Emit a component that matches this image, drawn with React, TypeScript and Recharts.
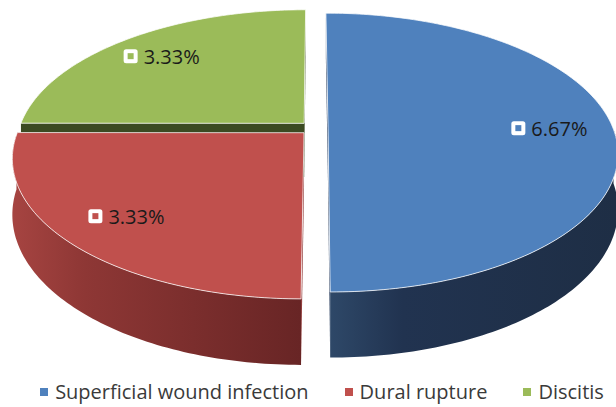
import React from "react";
import { PieChart, Pie, Legend } from "recharts";

const CATEGORIES = ["Superficial wound infection", "Dural rupture", "Discitis"];
const VALUES = [6.67, 3.33, 3.33];
const VALUE_LABELS = ["6.67%", "3.33%", "3.33%"];

const TOP_COLORS = ["#4F81BD", "#C0504D", "#9BBB59"];
const SIDE_STOPS = [
  ["#2E4868", "#213350", "#1E2E45"],
  ["#A64441", "#8E3735", "#682525"],
  ["#4A5D2A", "#3E4E24", "#3A4A22"],
];
const EDGE_COLORS = ["#24395A", "#8E3533", "#3B4A22"];

const data = CATEGORIES.map((name, i) => ({
  name,
  value: VALUES[i],
  text: VALUE_LABELS[i],
}));

// fake 3d: tilt of the disc, perspective strength, thickness, explode distance
const TILT = 0.474;
const PERSP = 0.176;
const DEPTH = 54;
const EXPLODE = 14;
const FONT = "'Open Sans', sans-serif";

const rad = (d: number) => (d * Math.PI) / 180;

function makeProjector(p: any) {
  const { cx, cy, outerRadius: r, midAngle } = p;
  const ox = EXPLODE * Math.cos(rad(midAngle));
  const oy = EXPLODE * Math.sin(rad(midAngle));
  const pt = (X: number, Y: number, z: number) => {
    const f = 1 / (1 + (PERSP * Y) / r);
    return [cx + X * f, cy - Y * TILT * f + z * f];
  };
  const rim = (deg: number, z: number, k = 1) =>
    pt(ox + k * r * Math.cos(rad(deg)), oy + k * r * Math.sin(rad(deg)), z);
  const center = (z: number) => pt(ox, oy, z);
  return { rim, center };
}

function arcAngles(a: number, b: number) {
  const n = Math.max(2, Math.ceil(Math.abs(b - a)));
  const out: number[] = [];
  for (let i = 0; i <= n; i++) out.push(a + ((b - a) * i) / n);
  return out;
}

const toPath = (pts: number[][]) =>
  pts.map((q, i) => `${i ? "L" : "M"}${q[0].toFixed(2)},${q[1].toFixed(2)}`).join(" ") + " Z";

function renderSide(p: any) {
  const { startAngle, endAngle, index } = p;
  const { rim, center } = makeProjector(p);
  const edges = [startAngle, endAngle].map((a) =>
    toPath([center(0), rim(a, 0), rim(a, DEPTH), center(DEPTH)])
  );
  const front = arcAngles(startAngle, endAngle).filter((a) => Math.sin(rad(a)) <= 1e-6);
  let outer = null;
  if (front.length > 1) {
    const top = front.map((a) => rim(a, 0));
    const bottom = front.map((a) => rim(a, DEPTH)).reverse();
    const pts = [...top, ...bottom];
    const xs = pts.map((q) => q[0]);
    const gid = `side-grad-${index}`;
    const stops = SIDE_STOPS[index];
    outer = (
      <>
        <defs>
          <linearGradient
            id={gid}
            gradientUnits="userSpaceOnUse"
            x1={Math.min(...xs)}
            x2={Math.max(...xs)}
            y1={0}
            y2={0}
          >
            <stop offset="0" stopColor={stops[0]} />
            <stop offset="0.25" stopColor={stops[1]} />
            <stop offset="1" stopColor={stops[2]} />
          </linearGradient>
        </defs>
        <path d={toPath(pts)} fill={`url(#${gid})`} stroke="none" />
      </>
    );
  }
  return (
    <g key={`side-${index}`}>
      {edges.map((d, i) => (
        <path key={i} d={d} fill={EDGE_COLORS[index]} stroke="none" />
      ))}
      {outer}
    </g>
  );
}

function renderTop(p: any) {
  const { startAngle, endAngle, midAngle, index, payload } = p;
  const { rim, center } = makeProjector(p);
  const pts = [center(0), ...arcAngles(startAngle, endAngle).map((a) => rim(a, 0))];
  const [lx, ly] = rim(midAngle, 0, 0.78);
  const color = TOP_COLORS[index];
  const box = 14;
  const textW = 58;
  const total = box + 6 + textW;
  const x0 = lx - total / 2;
  return (
    <g key={`top-${index}`}>
      <path
        d={toPath(pts)}
        fill={color}
        stroke="#ffffff"
        strokeOpacity={0.75}
        strokeWidth={1}
        strokeLinejoin="round"
      />
      <rect x={x0} y={ly - box / 2} width={box} height={box} rx={2.5} fill="#ffffff" />
      <rect x={x0 + 4} y={ly - 3} width={6} height={6} fill={color} />
      <text
        x={x0 + box + 6}
        y={ly}
        dominantBaseline="central"
        fontFamily={FONT}
        fontSize={20}
        fill="#1a1a1a"
      >
        {payload.text}
      </text>
    </g>
  );
}

function renderLegend() {
  return (
    <div
      style={{
        display: "flex",
        justifyContent: "center",
        alignItems: "center",
        paddingLeft: 28,
        fontFamily: FONT,
        fontSize: 20,
        color: "#3a3a3a",
        lineHeight: "26px",
        whiteSpace: "nowrap",
      }}
    >
      {CATEGORIES.map((name, i) => (
        <div
          key={name}
          style={{ display: "flex", alignItems: "center", marginRight: i < CATEGORIES.length - 1 ? 36 : 0 }}
        >
          <span
            style={{ width: 8, height: 8, background: TOP_COLORS[i], marginRight: 7, display: "inline-block" }}
          />
          <span>{name}</span>
        </div>
      ))}
    </div>
  );
}

export default function App() {
  return (
    <div style={{ position: "absolute", left: 0, top: 0, width: 616, height: 407, background: "#fff" }}>
      <PieChart width={616} height={407} margin={{ top: 0, right: 0, bottom: 0, left: 0 }}>
        <Pie
          data={data}
          dataKey="value"
          nameKey="name"
          cx={314}
          cy={128}
          outerRadius={285}
          startAngle={90}
          endAngle={-270}
          fill="none"
          stroke="none"
          legendType="none"
          labelLine={false}
          label={renderSide}
          isAnimationActive={false}
        />
        <Pie
          data={data}
          dataKey="value"
          nameKey="name"
          cx={314}
          cy={128}
          outerRadius={285}
          startAngle={90}
          endAngle={-270}
          fill="none"
          stroke="none"
          labelLine={false}
          label={renderTop}
          isAnimationActive={false}
        />
        <Legend content={renderLegend} wrapperStyle={{ left: 0, top: 379, width: 616 }} />
      </PieChart>
    </div>
  );
}
